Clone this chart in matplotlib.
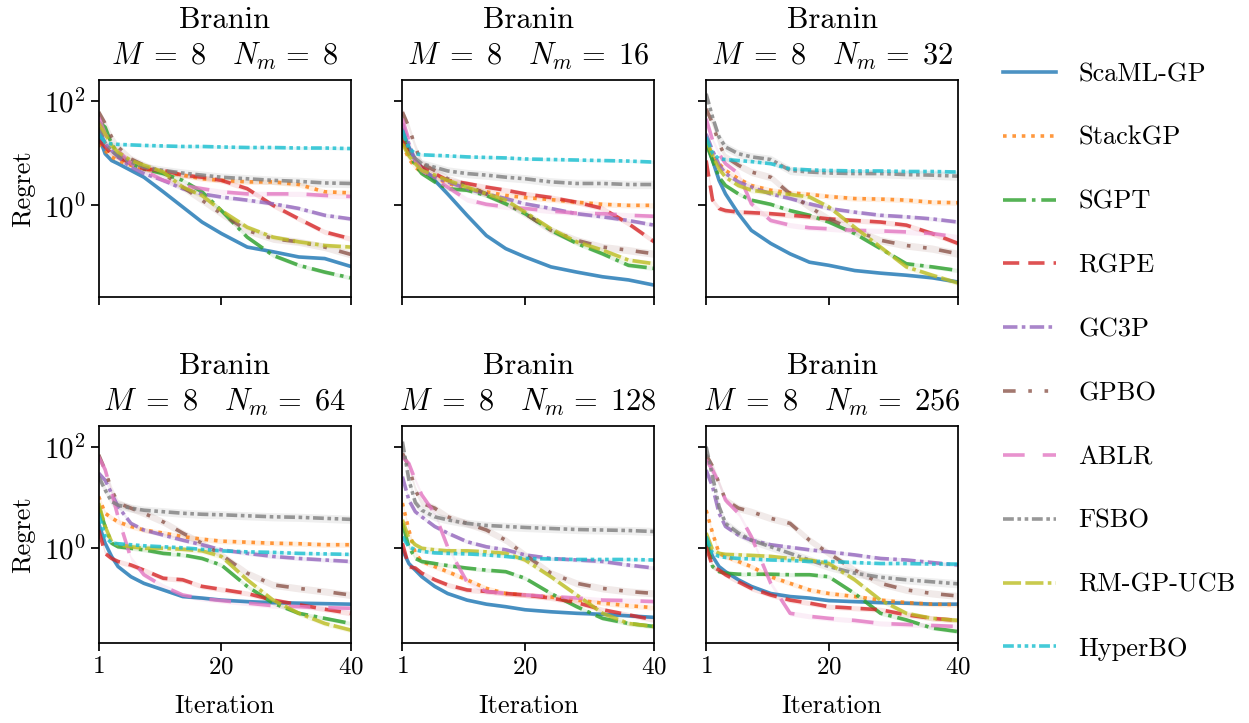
import numpy as np
import matplotlib
matplotlib.use("Agg")
import matplotlib.pyplot as plt
from matplotlib.ticker import FixedLocator, NullLocator, LogFormatterSciNotation

plt.rcParams.update({
    "font.family": "serif",
    "font.serif": ["cmr10"],
    "mathtext.fontset": "cm",
    "axes.formatter.use_mathtext": True,
    "axes.linewidth": 1.25,
})

# ---------------- data ----------------
iterations = [1, 2, 3, 4, 6, 8, 11, 14, 17, 20, 24, 28, 32, 36, 40]
panel_titles = ["8", "16", "32", "64", "128", "256"]   # N_m values, M = 8
task_name = "Branin"
methods = ["ScaML-GP", "StackGP", "SGPT", "RGPE", "GC3P", "GPBO", "ABLR",
           "FSBO", "RM-GP-UCB", "HyperBO"]

# log10(regret) per panel (rows: N_m = 8, 16, 32, 64, 128, 256)
log_scaml_gp = [
    [1.34, 0.99, 0.86, 0.80, 0.67, 0.54, 0.26, -0.03, -0.32, -0.54, -0.80, -0.89, -0.99, -1.02, -1.17],
    [1.44, 1.12, 0.86, 0.73, 0.48, 0.22, -0.19, -0.58, -0.83, -0.99, -1.18, -1.28, -1.37, -1.43, -1.53],
    [1.25, 0.86, 0.48, 0.22, -0.16, -0.48, -0.73, -0.93, -1.09, -1.15, -1.25, -1.30, -1.34, -1.39, -1.47],
    [0.49, 0.10, -0.16, -0.36, -0.56, -0.69, -0.82, -0.95, -0.98, -1.02, -1.05, -1.07, -1.08, -1.09, -1.10],
    [-0.03, -0.30, -0.43, -0.56, -0.75, -0.89, -1.02, -1.10, -1.15, -1.21, -1.25, -1.28, -1.30, -1.33, -1.36],
    [0.16, -0.16, -0.36, -0.46, -0.62, -0.75, -0.89, -0.95, -0.98, -1.03, -1.05, -1.07, -1.08, -1.10, -1.10],
]
log_stackgp = [
    [1.18, 1.05, 0.93, 0.86, 0.77, 0.70, 0.64, 0.58, 0.51, 0.48, 0.45, 0.45, 0.40, 0.26, 0.24],
    [1.18, 0.89, 0.73, 0.64, 0.54, 0.42, 0.32, 0.26, 0.19, 0.15, 0.11, 0.06, 0.02, 0.00, 0.00],
    [1.25, 0.95, 0.80, 0.67, 0.51, 0.38, 0.29, 0.24, 0.21, 0.17, 0.13, 0.12, 0.10, 0.06, 0.05],
    [1.02, 0.69, 0.60, 0.52, 0.43, 0.36, 0.30, 0.23, 0.18, 0.14, 0.12, 0.10, 0.09, 0.07, 0.07],
    [0.89, 0.36, -0.10, -0.26, -0.36, -0.46, -0.62, -0.79, -0.89, -0.92, -0.96, -1.02, -1.08, -1.13, -1.17],
    [0.75, 0.30, -0.10, -0.16, -0.26, -0.36, -0.56, -0.69, -0.82, -0.89, -0.95, -1.02, -1.07, -1.10, -1.11],
]
log_sgpt = [
    [1.60, 1.50, 1.18, 0.99, 0.80, 0.70, 0.61, 0.48, 0.26, -0.10, -0.61, -0.96, -1.15, -1.28, -1.39],
    [1.37, 0.99, 0.77, 0.61, 0.45, 0.32, 0.29, 0.19, 0.03, -0.16, -0.48, -0.73, -0.93, -1.15, -1.21],
    [1.18, 0.86, 0.54, 0.38, 0.22, 0.10, 0.02, -0.10, -0.19, -0.32, -0.54, -0.83, -1.12, -1.18, -1.25],
    [0.82, 0.43, 0.10, 0.03, 0.00, -0.03, -0.10, -0.13, -0.20, -0.33, -0.75, -1.08, -1.28, -1.38, -1.48],
    [0.49, 0.03, -0.20, -0.26, -0.30, -0.34, -0.39, -0.43, -0.46, -0.59, -0.89, -1.15, -1.38, -1.48, -1.54],
    [0.23, -0.36, -0.46, -0.49, -0.51, -0.51, -0.51, -0.52, -0.52, -0.56, -0.89, -1.28, -1.41, -1.57, -1.64],
]
log_rgpe = [
    [1.25, 1.12, 0.99, 0.93, 0.80, 0.70, 0.67, 0.58, 0.54, 0.48, 0.32, 0.00, -0.26, -0.51, -0.64],
    [1.25, 0.99, 0.85, 0.73, 0.61, 0.48, 0.42, 0.35, 0.29, 0.22, 0.15, 0.06, -0.06, -0.35, -0.70],
    [0.86, 0.10, -0.06, -0.10, -0.13, -0.14, -0.16, -0.19, -0.22, -0.26, -0.29, -0.32, -0.38, -0.54, -0.73],
    [0.36, -0.10, -0.20, -0.26, -0.33, -0.43, -0.59, -0.62, -0.75, -0.81, -0.89, -1.02, -1.11, -1.20, -1.28],
    [0.10, -0.36, -0.39, -0.49, -0.62, -0.72, -0.82, -0.85, -0.89, -0.92, -0.98, -1.07, -1.21, -1.31, -1.41],
    [0.03, -0.36, -0.43, -0.52, -0.66, -0.79, -0.92, -1.02, -1.08, -1.15, -1.18, -1.21, -1.31, -1.38, -1.42],
]
log_gc3p = [
    [1.50, 1.18, 1.05, 0.93, 0.73, 0.61, 0.48, 0.32, 0.22, 0.16, 0.10, 0.03, -0.06, -0.19, -0.26],
    [1.57, 1.18, 0.85, 0.67, 0.54, 0.45, 0.32, 0.22, 0.13, 0.03, -0.06, -0.16, -0.22, -0.29, -0.38],
    [1.37, 1.05, 0.78, 0.61, 0.45, 0.35, 0.22, 0.13, 0.03, -0.06, -0.13, -0.19, -0.22, -0.26, -0.32],
    [1.48, 1.34, 1.08, 0.82, 0.49, 0.36, 0.26, 0.16, 0.07, -0.03, -0.10, -0.16, -0.20, -0.23, -0.26],
    [1.41, 0.95, 0.72, 0.62, 0.43, 0.30, 0.13, 0.03, -0.03, -0.13, -0.20, -0.23, -0.26, -0.33, -0.39],
    [1.54, 1.21, 0.69, 0.43, 0.26, 0.16, 0.07, 0.02, -0.03, -0.07, -0.13, -0.20, -0.23, -0.28, -0.33],
]
log_gpbo = [
    [1.79, 1.57, 1.31, 1.12, 0.89, 0.77, 0.61, 0.35, 0.10, -0.16, -0.48, -0.64, -0.70, -0.80, -0.94],
    [1.79, 1.50, 1.12, 0.80, 0.67, 0.51, 0.38, 0.22, 0.06, -0.16, -0.48, -0.67, -0.80, -0.86, -0.93],
    [1.85, 1.57, 1.18, 0.93, 0.77, 0.64, 0.54, 0.22, -0.03, -0.26, -0.48, -0.67, -0.77, -0.83, -0.93],
    [1.84, 1.54, 1.15, 0.89, 0.79, 0.69, 0.52, 0.30, 0.10, -0.13, -0.49, -0.72, -0.79, -0.85, -0.92],
    [1.87, 1.61, 1.15, 0.89, 0.79, 0.62, 0.49, 0.36, 0.16, -0.13, -0.49, -0.69, -0.79, -0.85, -0.89],
    [1.84, 1.61, 1.28, 0.95, 0.79, 0.72, 0.59, 0.49, 0.16, -0.10, -0.43, -0.69, -0.82, -0.89, -0.94],
]
log_ablr = [
    [1.69, 1.37, 1.18, 1.05, 0.80, 0.67, 0.48, 0.38, 0.32, 0.26, 0.22, 0.22, 0.22, 0.19, 0.17],
    [1.66, 1.25, 0.86, 0.67, 0.51, 0.35, 0.11, 0.02, -0.03, -0.06, -0.11, -0.15, -0.16, -0.19, -0.21],
    [1.66, 1.25, 0.99, 0.80, 0.61, 0.03, -0.29, -0.38, -0.43, -0.45, -0.48, -0.49, -0.51, -0.54, -0.61],
    [1.80, 1.55, 1.10, 0.62, -0.20, -0.52, -0.75, -0.92, -0.99, -1.03, -1.08, -1.13, -1.15, -1.17, -1.18],
    [1.80, 1.67, 1.34, 1.05, 0.69, 0.03, -0.66, -0.85, -0.89, -0.92, -0.95, -0.98, -1.02, -1.03, -1.05],
    [1.74, 1.54, 1.28, 0.95, 0.69, 0.23, -0.69, -1.28, -1.34, -1.38, -1.42, -1.48, -1.50, -1.52, -1.54],
]
log_fsbo = [
    [1.50, 1.20, 1.05, 0.95, 0.83, 0.73, 0.67, 0.62, 0.58, 0.54, 0.51, 0.48, 0.46, 0.43, 0.42],
    [1.44, 1.05, 0.90, 0.80, 0.73, 0.66, 0.61, 0.58, 0.54, 0.51, 0.45, 0.42, 0.42, 0.40, 0.40],
    [2.14, 1.69, 1.31, 1.12, 0.99, 0.93, 0.88, 0.67, 0.64, 0.62, 0.61, 0.61, 0.59, 0.58, 0.56],
    [1.41, 1.15, 0.92, 0.85, 0.79, 0.75, 0.72, 0.69, 0.67, 0.66, 0.64, 0.62, 0.61, 0.59, 0.57],
    [2.10, 1.35, 0.90, 0.75, 0.62, 0.56, 0.49, 0.45, 0.43, 0.41, 0.39, 0.37, 0.36, 0.35, 0.33],
    [2.00, 1.41, 0.82, 0.49, 0.30, 0.16, 0.03, -0.10, -0.23, -0.36, -0.49, -0.57, -0.62, -0.66, -0.70],
]
log_rm_gp_ucb = [
    [1.57, 1.37, 1.15, 1.02, 0.86, 0.77, 0.64, 0.35, 0.19, -0.10, -0.42, -0.61, -0.70, -0.77, -0.80],
    [1.18, 0.95, 0.80, 0.67, 0.58, 0.48, 0.35, 0.22, 0.10, -0.13, -0.45, -0.70, -0.86, -1.05, -1.12],
    [1.25, 0.95, 0.70, 0.54, 0.38, 0.29, 0.24, 0.21, 0.16, -0.03, -0.42, -0.80, -1.18, -1.34, -1.49],
    [0.89, 0.43, 0.13, 0.07, 0.03, 0.00, 0.00, -0.02, -0.05, -0.16, -0.62, -1.02, -1.28, -1.48, -1.61],
    [0.56, 0.20, 0.07, 0.00, -0.03, -0.05, -0.05, -0.07, -0.10, -0.23, -0.56, -0.92, -1.28, -1.48, -1.54],
    [0.30, -0.03, -0.10, -0.12, -0.13, -0.14, -0.16, -0.20, -0.23, -0.30, -0.62, -1.02, -1.28, -1.38, -1.42],
]
log_hyperbo = [
    [1.37, 1.21, 1.18, 1.17, 1.16, 1.15, 1.14, 1.13, 1.13, 1.12, 1.11, 1.11, 1.10, 1.10, 1.09],
    [1.44, 1.10, 0.99, 0.97, 0.96, 0.95, 0.93, 0.92, 0.91, 0.89, 0.88, 0.87, 0.86, 0.85, 0.83],
    [1.31, 1.00, 0.89, 0.88, 0.86, 0.84, 0.80, 0.70, 0.68, 0.67, 0.66, 0.66, 0.65, 0.65, 0.64],
    [0.69, 0.23, 0.10, 0.09, 0.07, 0.05, 0.03, 0.01, -0.02, -0.05, -0.07, -0.08, -0.10, -0.11, -0.12],
    [0.23, 0.03, -0.03, -0.06, -0.09, -0.10, -0.11, -0.13, -0.16, -0.20, -0.21, -0.22, -0.22, -0.22, -0.23],
    [0.23, -0.10, -0.16, -0.18, -0.20, -0.21, -0.23, -0.24, -0.26, -0.26, -0.28, -0.30, -0.30, -0.31, -0.31],
]
# half-width of the shaded band (log10 units) per method
band_halfwidth = [0.03, 0.05, 0.04, 0.05, 0.04, 0.07, 0.05, 0.08, 0.05, 0.03]

all_series = [log_scaml_gp, log_stackgp, log_sgpt, log_rgpe, log_gc3p,
              log_gpbo, log_ablr, log_fsbo, log_rm_gp_ucb, log_hyperbo]

# ---------------- styles ----------------
colors = plt.cm.tab10.colors
linestyles = [
    "-",
    (0, (1, 1.6)),
    (0, (6.4, 1.6, 1, 1.6)),
    (0, (4.5, 2.5)),
    (0, (4, 1.2, 1, 1.2)),
    (0, (3.5, 3.5, 1, 3.5, 1, 3.5)),
    (0, (6, 5)),
    (0, (3, 1, 1, 1, 1, 1)),
    (0, (5, 1.2, 5, 1.2, 1, 1.2)),
    (0, (3, 1, 1, 1, 1, 1, 1, 1)),
]
lw = 2.6
alpha = 0.8

fig, axes = plt.subplots(2, 3, figsize=(12.49, 7.23), dpi=100, sharex=True)
fig.subplots_adjust(left=0.079, right=0.767, top=0.889, bottom=0.111,
                    wspace=0.206, hspace=0.594)

ylims = [(10 ** -1.76, 10 ** 2.40), (10 ** -1.86, 10 ** 2.41)]
x = np.array(iterations)
handles = []
for p, ax in enumerate(axes.flat):
    for m, series in enumerate(all_series):
        y = np.array(series[p])
        ax.fill_between(x, 10 ** (y - band_halfwidth[m]), 10 ** (y + band_halfwidth[m]),
                        color=colors[m], alpha=0.12, linewidth=0)
        line, = ax.plot(x, 10 ** y, color=colors[m], linestyle=linestyles[m],
                        linewidth=lw, alpha=alpha, label=methods[m])
        if p == 0:
            handles.append(line)
    ax.set_yscale("log")
    ax.set_ylim(*ylims[p // 3])
    ax.set_xlim(1, 40)
    ax.set_xticks([1, 20, 40])
    ax.yaxis.set_major_locator(FixedLocator([1, 100]))
    ax.yaxis.set_minor_locator(NullLocator())
    ax.yaxis.set_major_formatter(LogFormatterSciNotation())
    ax.tick_params(axis="x", labelsize=18, length=6, width=1.25)
    ax.tick_params(axis="y", labelsize=21, length=6, width=1.25)
    ax.set_title(f"{task_name}\n$M\\;=\\;8 \\quad N_m\\!\\;=\\;{panel_titles[p]}$",
                 fontsize=22, pad=11, linespacing=1.27)
    if p % 3 == 0:
        ax.set_ylabel("Regret", fontsize=19, labelpad=6)
    else:
        ax.set_yticklabels([])
    if p >= 3:
        ax.set_xlabel("Iteration", fontsize=19, labelpad=12)

fig.legend(handles=handles, labels=methods, loc="center left",
           bbox_to_anchor=(0.784, 0.5), frameon=False, fontsize=19,
           labelspacing=1.52, handlelength=2.0, handletextpad=0.85)

fig.savefig("out.png", dpi=100)
